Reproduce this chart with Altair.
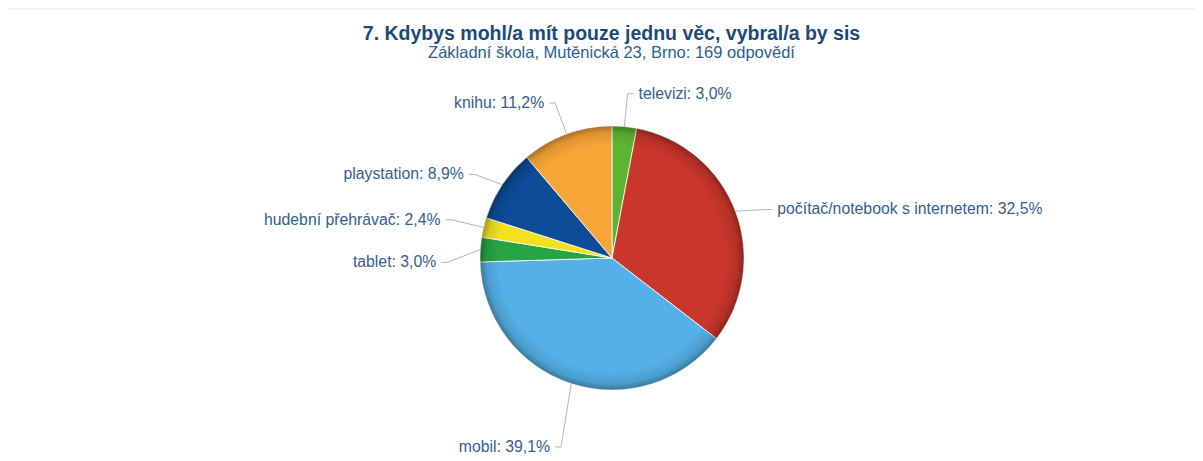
import math
import altair as alt
import pandas as pd

# ---- data ----
names = ["televizi", "počítač/notebook s internetem", "mobil", "tablet",
         "hudební přehrávač", "playstation", "knihu"]
values = [3.0, 32.5, 39.1, 3.0, 2.4, 8.9, 11.2]
colors = ["#5cb531", "#c9362c", "#54b0e6", "#27a444", "#f2e21e", "#0d4c97", "#f6a536"]

title = "7. Kdybys mohl/a mít pouze jednu věc, vybral/a by sis"
subtitle = "Základní škola, Mutěnická 23, Brno: 169 odpovědí"

# ---- layout ----
W, H = 1187, 397
CX, CY, R = 604, 195, 132
LABEL_R = 165
label_dy = [0, 10, 32, 15, 0, 8, 0]   # label spacing adjustments (as in the source)
TEXT_COLOR = "#33608c"
FONT = "Liberation Sans"

total = sum(values)
slices, labels, lines = [], [], []
cum = 0.0
for i, (n, v) in enumerate(zip(names, values)):
    mid = (cum + v / 2) / total
    cum += v
    a = 2 * math.pi * mid
    s, c = math.sin(a), math.cos(a)
    side = 1 if s >= 0 else -1
    ex, ey = CX + R * s, CY - R * c
    bx = CX + LABEL_R * s
    ly = CY - LABEL_R * c + label_dy[i]
    lx = bx + side * 6
    slices.append({"idx": i, "name": n, "value": v, "cx": CX, "cy": CY})
    labels.append({"name": n, "text": f"{n}: {v:.1f}%".replace(".", ","),
                   "x": lx + side * 5, "y": ly,
                   "align": "left" if side > 0 else "right"})
    for k, (px, py) in enumerate([(ex, ey), (bx, ly), (lx, ly)]):
        lines.append({"name": n, "k": k, "x": px, "y": py})

df_s = pd.DataFrame(slices)
df_l = pd.DataFrame(labels)
df_c = pd.DataFrame(lines)
df_center = pd.DataFrame([{"cx": CX, "cy": CY}])

xs = alt.Scale(domain=[0, W], nice=False, zero=False)
ys = alt.Scale(domain=[0, H], nice=False, zero=False, reverse=True)

pie = alt.Chart(df_s).mark_arc(outerRadius=R, stroke="#ffffff", strokeWidth=1,
                               strokeOpacity=0.8).encode(
    x=alt.X("cx:Q", scale=xs, axis=None),
    y=alt.Y("cy:Q", scale=ys, axis=None),
    theta=alt.Theta("value:Q", stack=True),
    order=alt.Order("idx:Q"),
    color=alt.Color("name:N", scale=alt.Scale(domain=names, range=colors), legend=None),
)

shade = alt.Chart(df_center).mark_arc(
    theta=0, theta2=2 * math.pi, outerRadius=R,
    fill=alt.RadialGradient(
        gradient="radial",
        stops=[
            alt.GradientStop(offset=0, color="rgba(0,0,0,0)"),
            alt.GradientStop(offset=0.86, color="rgba(0,0,0,0)"),
            alt.GradientStop(offset=0.95, color="rgba(0,0,0,0.10)"),
            alt.GradientStop(offset=1, color="rgba(0,0,0,0.32)"),
        ],
        x1=0.5, y1=0.5, r1=0, x2=0.5, y2=0.5, r2=0.5,
    ),
).encode(
    x=alt.X("cx:Q", scale=xs, axis=None),
    y=alt.Y("cy:Q", scale=ys, axis=None),
)

conn = alt.Chart(df_c).mark_line(color="#b5b5b5", strokeWidth=1).encode(
    x=alt.X("x:Q", scale=xs, axis=None),
    y=alt.Y("y:Q", scale=ys, axis=None),
    detail="name:N",
    order="k:Q",
)

txt_left = alt.Chart(df_l[df_l["align"] == "left"]).mark_text(
    align="left", baseline="middle", font=FONT, fontSize=15.8, color=TEXT_COLOR
).encode(
    x=alt.X("x:Q", scale=xs, axis=None),
    y=alt.Y("y:Q", scale=ys, axis=None),
    text="text:N",
)
txt_right = alt.Chart(df_l[df_l["align"] == "right"]).mark_text(
    align="right", baseline="middle", font=FONT, fontSize=15.8, color=TEXT_COLOR
).encode(
    x=alt.X("x:Q", scale=xs, axis=None),
    y=alt.Y("y:Q", scale=ys, axis=None),
    text="text:N",
)

top_rule = alt.Chart(df_center).mark_rule(color="#e6e6e6", strokeWidth=1).encode(
    x=alt.value(0), x2=alt.value(W), y=alt.value(-54)
)

chart = alt.layer(top_rule, conn, pie, shade, txt_left, txt_right).properties(
    width=W, height=H,
    autosize=alt.AutoSizeParams(type="none"),
    padding={"top": 55, "left": 0, "right": 0, "bottom": 0},
    title=alt.TitleParams(
        text=title, subtitle=subtitle,
        font=FONT, fontSize=19.5, fontWeight="bold", color="#1c4a78",
        subtitleFont=FONT, subtitleFontSize=16.5, subtitleColor="#2a5f8e",
        subtitlePadding=1, anchor="middle", dx=10, offset=-54,
    ),
).configure_view(stroke=None)

chart.save("out.html", embed_options={"renderer": "svg", "actions": False})
